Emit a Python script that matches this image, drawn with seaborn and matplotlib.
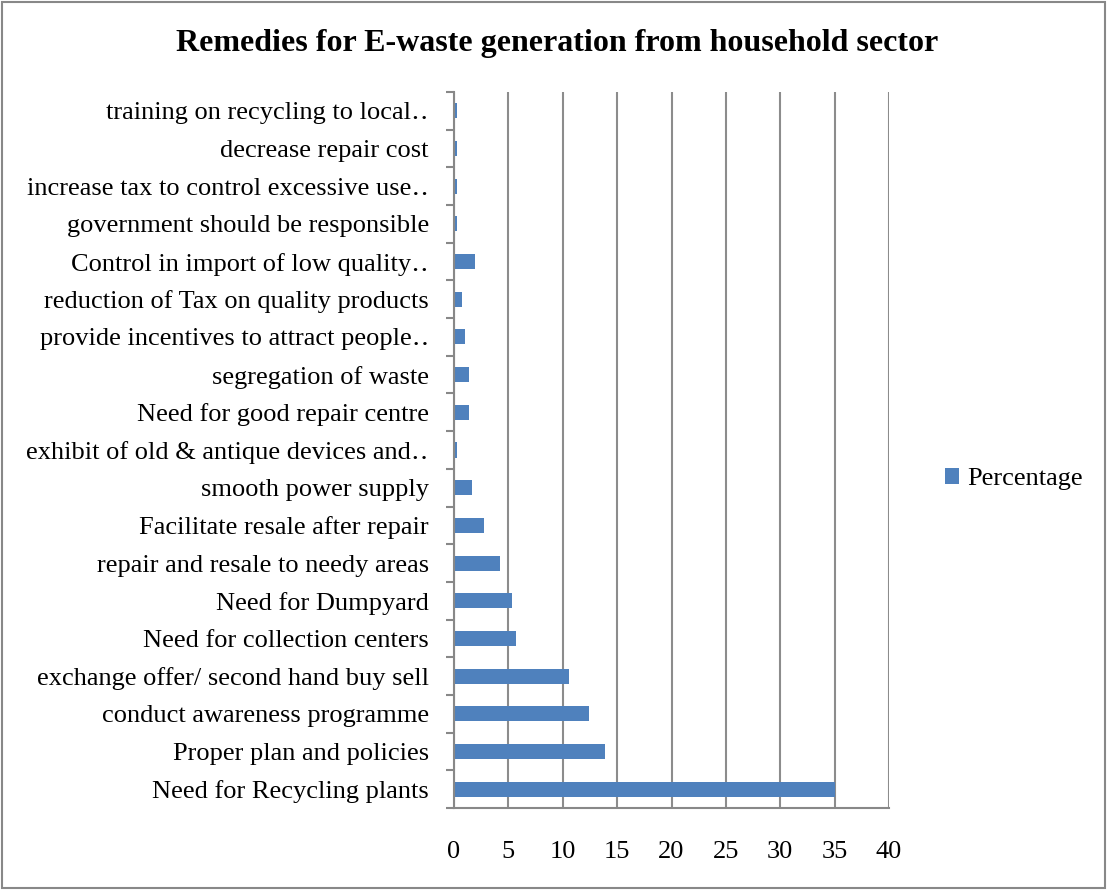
import matplotlib
matplotlib.use("Agg")
import matplotlib.pyplot as plt
import seaborn as sns
import pandas as pd
import numpy as np
from matplotlib.patches import Rectangle, Patch
from matplotlib.ticker import FixedLocator

categories = [
    "training on recycling to local‥",
    "decrease repair cost",
    "increase tax to control excessive use‥",
    "government should be responsible",
    "Control in import of low quality‥",
    "reduction of Tax on quality products",
    "provide incentives to attract people‥",
    "segregation of waste",
    "Need for good repair centre",
    "exhibit of old & antique devices and‥",
    "smooth power supply",
    "Facilitate resale after repair",
    "repair and resale to needy areas",
    "Need for Dumpyard",
    "Need for collection centers",
    "exchange offer/ second hand buy sell",
    "conduct awareness programme",
    "Proper plan and policies",
    "Need for Recycling plants",
]
values = [0.3, 0.3, 0.3, 0.3, 1.9, 0.7, 1.0, 1.35, 1.35, 0.3,
          1.7, 2.8, 4.2, 5.3, 5.7, 10.6, 12.4, 13.9, 35.0]
series_name = "Percentage"
xticks = [0, 5, 10, 15, 20, 25, 30, 35, 40]

df = pd.DataFrame({"category": categories, "value": values})

sns.set_theme(style="white")
plt.rcParams["font.family"] = ["Liberation Serif", "DejaVu Serif"]
plt.rcParams["text.color"] = "black"

fig = plt.figure(figsize=(11.07, 8.90), dpi=100)
ax = fig.add_axes([454 / 1107, 1 - 808 / 890, (889 - 454) / 1107, (808 - 92) / 890])

bar_color = "#4F81BD"
sns.barplot(data=df, x="value", y="category", orient="h", color=bar_color,
            width=0.4, ax=ax, saturation=1, edgecolor="none")

fs = 19
ax.set_xlim(0, 40)
ax.set_ylim(len(categories) - 0.5, -0.5)
ax.set_xticks(xticks)
ax.set_xticklabels([str(t) for t in xticks], fontsize=fs)
ax.set_xlabel("")
ax.set_ylabel("")
ax.tick_params(axis="y", which="major", length=0, pad=18, labelsize=fs)
ax.tick_params(axis="x", which="major", length=5, width=1.5, color="#888888",
               direction="out", pad=19)
ax.yaxis.set_minor_locator(FixedLocator(np.arange(-0.5, len(categories), 1.0)))
ax.tick_params(axis="y", which="minor", length=6, width=1.5, color="#888888",
               direction="out", left=True)
for lbl in ax.get_yticklabels():
    lbl.set_color("black")
for lbl in ax.get_xticklabels():
    lbl.set_color("black")

ax.grid(axis="x", color="#8c8c8c", linewidth=1.5)
ax.set_axisbelow(True)
for side in ["top", "right"]:
    ax.spines[side].set_visible(False)
for side in ["left", "bottom"]:
    ax.spines[side].set_color("#888888")
    ax.spines[side].set_linewidth(1.5)

fig.text(557 / 1107, 1 - 43 / 890, "Remedies for E-waste generation from household sector",
         ha="center", va="center", fontsize=23, fontweight="bold", color="black")

handles = [Patch(facecolor=bar_color, edgecolor="none", label=series_name)]
fig.legend(handles=handles, loc="center left", bbox_to_anchor=(921 / 1107, 1 - 479 / 890),
           frameon=False, fontsize=fs, handlelength=0.55, handleheight=0.55,
           handletextpad=0.3, labelcolor="black")

fig.patches.append(Rectangle((0.002, 0.002), 0.996, 0.996, transform=fig.transFigure,
                             fill=False, edgecolor="#888888", linewidth=1.5))

fig.savefig("out.png", dpi=100, facecolor="white")
